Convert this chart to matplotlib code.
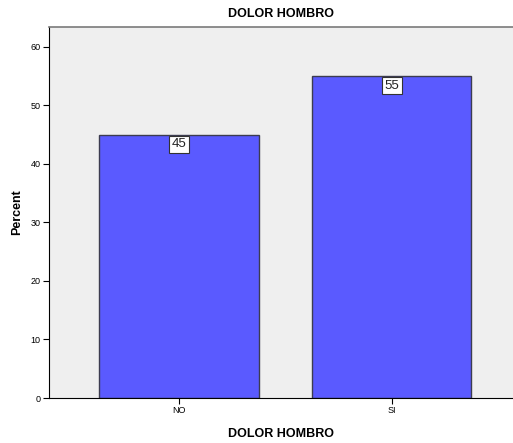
import matplotlib
matplotlib.use("Agg")
import matplotlib.pyplot as plt

plt.rcParams['font.family'] = ['Liberation Sans', 'DejaVu Sans']

categories = ["NO", "SI"]
percents = [45, 55]
yticks = [0, 10, 20, 30, 40, 50, 60]

fig = plt.figure(figsize=(5.13, 4.43), dpi=100)
ax = fig.add_axes([49 / 513, 45 / 443, 464 / 513, 371 / 443])
ax.set_facecolor("#efefef")

x = range(len(categories))
ax.bar(x, percents, width=0.75, color="#5a5aff", edgecolor="#3c3c50", linewidth=1)

# value labels sit just under the top of each bar
for xi, v in zip(x, percents):
    ax.annotate(str(v), (xi, v), xytext=(0, -2.5), textcoords="offset points",
                ha="center", va="top", fontsize=9.5, color="#222222",
                bbox=dict(boxstyle="square,pad=0.2", fc="white", ec="#333333", lw=0.8))

ax.set_xlim(-0.61, 1.57)
ax.set_ylim(0, 63.4)
ax.set_xticks(list(x))
ax.set_xticklabels(categories, fontsize=6.5)
ax.set_yticks(yticks)
ax.set_yticklabels([str(t) for t in yticks], fontsize=6.5)
ax.tick_params(axis="both", length=4, width=0.8, color="black", pad=2)

ax.spines["right"].set_visible(False)
ax.spines["top"].set_color("#7a7a7a")
ax.spines["top"].set_linewidth(1.2)
ax.spines["left"].set_color("black")
ax.spines["bottom"].set_color("black")

ax.set_xlabel("DOLOR HOMBRO", fontsize=9, fontweight="bold", labelpad=9)
ax.set_ylabel("Percent", fontsize=9, fontweight="bold", labelpad=5)
ax.set_title("DOLOR HOMBRO", fontsize=9, fontweight="bold", pad=7)

fig.savefig("out.png", dpi=100)
